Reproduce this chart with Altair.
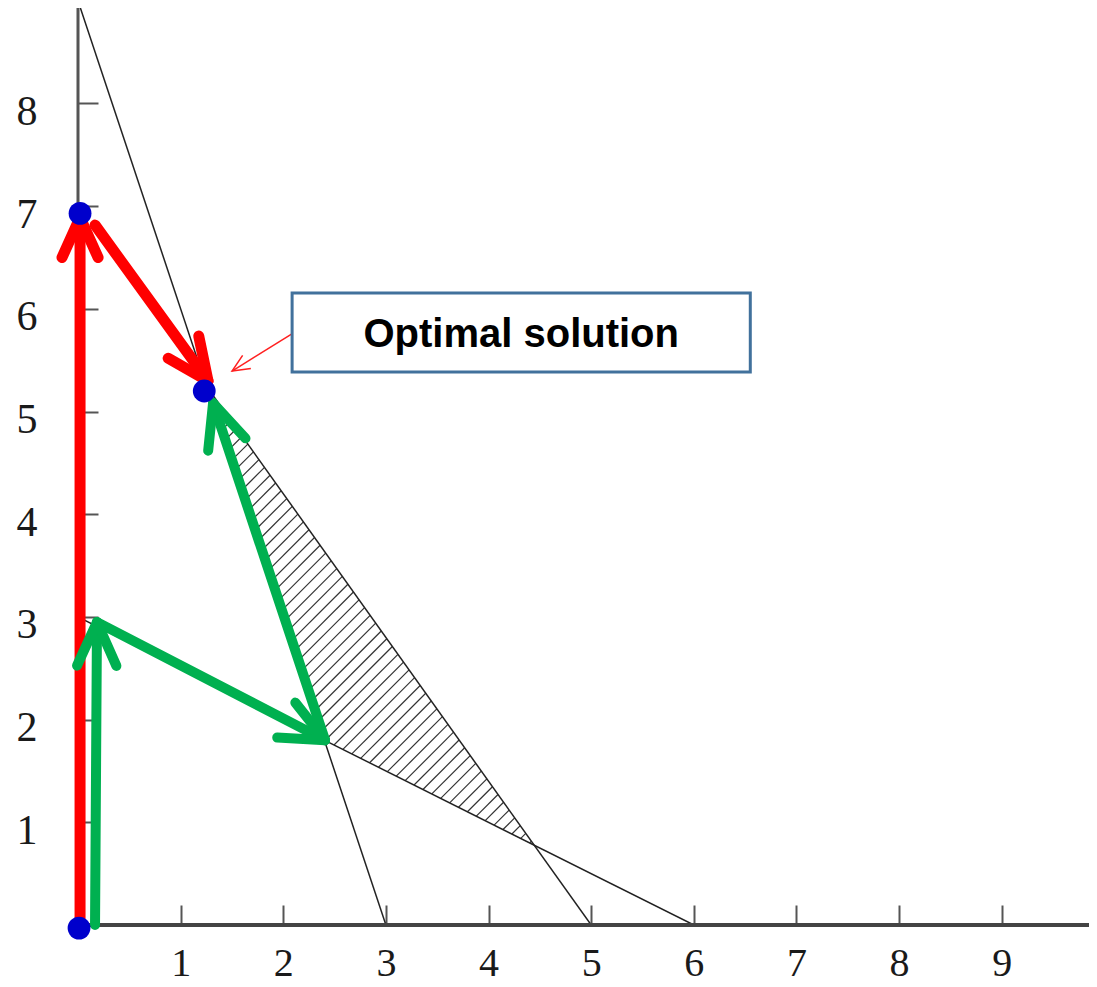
import math
import altair as alt
import numpy as np
import pandas as pd

# ---------------- data ----------------
X_MAX = 9.85
Y_MAX = 8.93
PLOT_W = 1011
PLOT_H = 917

X_TICKS = [1, 2, 3, 4, 5, 6, 7, 8, 9]
Y_TICKS = [1, 2, 3, 4, 5, 6, 7, 8]

# constraint lines (end points)
LINE_NAMES = ["3x + y = 9", "x + 2y = 6", "7x + 5y = 35"]
LINE_X1 = [0, 0, 5]
LINE_Y1 = [9, 3, 0]
LINE_X2 = [3, 6, 1.25]
LINE_Y2 = [0, 0, 5.25]

# hatched region (triangle vertices)
REGION_X = [1.25, 2.4, 4.444]
REGION_Y = [5.25, 1.8, 0.778]
HATCH_STEP = 0.13

# axis lines
AXLINE_X1 = [0, 0]
AXLINE_Y1 = [0, 0]
AXLINE_X2 = [X_MAX, 0]
AXLINE_Y2 = [0, Y_MAX]
AXLINE_W = [4, 3]
AXLINE_C = ["#444444", "#555555"]

# path arrows
ARROW_X1 = [0.02, 0.166, 0.166, 0.185, 2.407]
ARROW_Y1 = [0.0, 6.816, 0.0, 2.95, 1.80]
ARROW_X2 = [0.02, 1.267, 0.185, 2.407, 1.316]
ARROW_Y2 = [6.89, 5.297, 2.95, 1.80, 5.083]
ARROW_COLORS = ["#ff0000", "#ff0000", "#00b050", "#00b050", "#00b050"]
ARROW_WIDTHS = [11, 11, 10, 10, 10]
HEAD_LEN = [44, 46, 48, 48, 48]

# pointer arrow to the optimal solution
POINTER_X1 = [2.096]
POINTER_Y1 = [5.764]
POINTER_X2 = [1.501]
POINTER_Y2 = [5.394]
POINTER_HEAD = [19]

# vertices visited
DOT_X = [0.01, 0.02, 1.23]
DOT_Y = [-0.03, 6.93, 5.20]

# annotation box
BOX_X1 = [2.086]
BOX_X2 = [6.55]
BOX_Y1 = [5.385]
BOX_Y2 = [6.154]
LABEL_TEXT = ["Optimal solution"]
LABEL_X = [4.318]
LABEL_Y = [5.75]

HEAD_PATH = "M -0.41 0.91 L 0 0 L 0.41 0.91"

# ---------------- helpers ----------------
SX = PLOT_W / X_MAX
SY = PLOT_H / Y_MAX

XAXIS = alt.Axis(values=X_TICKS, domain=False, grid=False, offset=-20, tickSize=20,
                 tickWidth=2, tickColor="#555555", labelFont="Liberation Serif",
                 labelFontSize=40, labelColor="#1a1a1a", labelPadding=18,
                 labelBaseline="top", labelFlush=False, labelOverlap=False,
                 format="d", title=None)
YAXIS = alt.Axis(values=Y_TICKS, domain=False, grid=False, offset=-20, tickSize=20,
                 tickWidth=2, tickColor="#555555", labelFont="Liberation Serif",
                 labelFontSize=42, labelColor="#1a1a1a", labelPadding=41,
                 labelOffset=8, labelBaseline="middle", labelAlign="right",
                 labelFlush=False, labelOverlap=False, format="d", title=None)
XS = alt.Scale(domain=[0, X_MAX], nice=False, zero=False)
YS = alt.Scale(domain=[0, Y_MAX], nice=False, zero=False)


def X(f):
    return alt.X(f, type="quantitative", scale=XS, axis=XAXIS)


def Y(f):
    return alt.Y(f, type="quantitative", scale=YS, axis=YAXIS)


def angle(dx, dy):
    return math.degrees(math.atan2(dx * SX, dy * SY)) % 360


# hatch segments clipped to the triangle (lines y = x + c)
def hatch_segments():
    vx, vy = REGION_X, REGION_Y
    vals = [vy[i] - vx[i] for i in range(3)]
    segs = []
    for c in np.arange(min(vals) + HATCH_STEP / 2, max(vals), HATCH_STEP):
        pts = []
        for i in range(3):
            j = (i + 1) % 3
            a = vy[i] - vx[i]
            b = vy[j] - vx[j]
            if abs(b - a) < 1e-12:
                continue
            t = (c - a) / (b - a)
            if 0 <= t <= 1:
                pts.append((vx[i] + t * (vx[j] - vx[i]), vy[i] + t * (vy[j] - vy[i])))
        if len(pts) >= 2:
            pts.sort()
            segs.append({"x": pts[0][0], "y": pts[0][1], "x2": pts[-1][0], "y2": pts[-1][1]})
    return pd.DataFrame(segs)


lines_df = pd.DataFrame({"name": LINE_NAMES, "x": LINE_X1, "y": LINE_Y1,
                         "x2": LINE_X2, "y2": LINE_Y2})
axl_df = pd.DataFrame({"x": AXLINE_X1, "y": AXLINE_Y1, "x2": AXLINE_X2, "y2": AXLINE_Y2,
                       "w": AXLINE_W, "c": AXLINE_C})
hatch_df = hatch_segments()
arrows_df = pd.DataFrame({"x": ARROW_X1, "y": ARROW_Y1, "x2": ARROW_X2, "y2": ARROW_Y2,
                          "c": ARROW_COLORS, "w": ARROW_WIDTHS})
heads_df = pd.DataFrame({
    "x": ARROW_X2, "y": ARROW_Y2, "c": ARROW_COLORS, "w": ARROW_WIDTHS,
    "size": [4 * L * L for L in HEAD_LEN],
    "angle": [angle(ARROW_X2[i] - ARROW_X1[i], ARROW_Y2[i] - ARROW_Y1[i]) for i in range(5)],
})
ptr_df = pd.DataFrame({"x": POINTER_X1, "y": POINTER_Y1, "x2": POINTER_X2, "y2": POINTER_Y2})
ptr_head_df = pd.DataFrame({
    "x": POINTER_X2, "y": POINTER_Y2,
    "size": [4 * L * L for L in POINTER_HEAD],
    "angle": [angle(POINTER_X2[0] - POINTER_X1[0], POINTER_Y2[0] - POINTER_Y1[0])],
})
dots_df = pd.DataFrame({"x": DOT_X, "y": DOT_Y})
box_df = pd.DataFrame({"x": BOX_X1, "x2": BOX_X2, "y": BOX_Y1, "y2": BOX_Y2})
label_df = pd.DataFrame({"x": LABEL_X, "y": LABEL_Y, "t": LABEL_TEXT})

# ---------------- layers ----------------
hatch = alt.Chart(hatch_df).mark_rule(color="#333333", strokeWidth=1.2).encode(
    x=X("x"), y=Y("y"), x2="x2", y2="y2")

constraints = alt.Chart(lines_df).mark_rule(color="#222222", strokeWidth=1.5, clip=True).encode(
    x=X("x"), y=Y("y"), x2="x2", y2="y2")

axis_lines = alt.Chart(axl_df).mark_rule().encode(
    x=X("x"), y=Y("y"), x2="x2", y2="y2",
    color=alt.Color("c:N", scale=None),
    strokeWidth=alt.StrokeWidth("w:Q", scale=None))

shafts = alt.Chart(arrows_df).mark_rule(strokeCap="round").encode(
    x=X("x"), y=Y("y"), x2="x2", y2="y2",
    color=alt.Color("c:N", scale=None),
    strokeWidth=alt.StrokeWidth("w:Q", scale=None))

heads = alt.Chart(heads_df).mark_point(shape=HEAD_PATH, filled=False, opacity=1,
                                       strokeCap="round", strokeJoin="round").encode(
    x=X("x"), y=Y("y"),
    stroke=alt.Stroke("c:N", scale=None),
    strokeWidth=alt.StrokeWidth("w:Q", scale=None),
    size=alt.Size("size:Q", scale=None),
    angle=alt.Angle("angle:Q", scale=None))

dots = alt.Chart(dots_df).mark_circle(color="#0000cc", opacity=1, size=520).encode(
    x=X("x"), y=Y("y"))

pointer = alt.Chart(ptr_df).mark_rule(color="#ff2020", strokeWidth=1.5).encode(
    x=X("x"), y=Y("y"), x2="x2", y2="y2")

pointer_head = alt.Chart(ptr_head_df).mark_point(shape=HEAD_PATH, filled=False, opacity=1,
                                                 color="#ff2020", strokeWidth=1.5).encode(
    x=X("x"), y=Y("y"),
    size=alt.Size("size:Q", scale=None),
    angle=alt.Angle("angle:Q", scale=None))

box = alt.Chart(box_df).mark_rect(fill="white", stroke="#41719c", strokeWidth=3).encode(
    x=X("x"), x2="x2", y=Y("y"), y2="y2")

label = alt.Chart(label_df).mark_text(font="Liberation Sans", fontWeight="bold", fontSize=40,
                                      color="black", align="center", baseline="middle").encode(
    x=X("x"), y=Y("y"), text="t:N")

chart = alt.layer(
    hatch, constraints, axis_lines, shafts, heads, dots, pointer, pointer_head, box, label
).properties(
    width=PLOT_W, height=PLOT_H,
    padding={"left": 70, "top": 0, "right": 0, "bottom": 64},
    autosize=alt.AutoSizeParams(type="none"),
    background="white",
).configure_view(stroke=None)

chart.save("out.html", embed_options={"renderer": "svg", "actions": False})
